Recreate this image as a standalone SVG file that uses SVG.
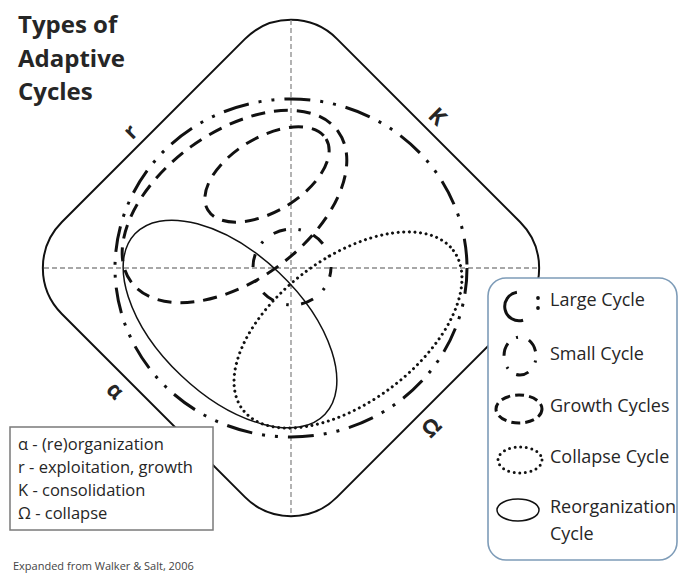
<svg xmlns="http://www.w3.org/2000/svg" width="680" height="575" viewBox="0 0 680 575">
<defs>
<style>
text{font-family:"Open Sans","Liberation Sans",sans-serif;fill:#262626}
.title{font-size:24px;font-weight:bold}
.lbl{font-size:22px;font-weight:bold;text-anchor:middle}
.leg{font-size:18px}
.key{font-size:16.5px}
.foot{font-size:11px;fill:#444}
.cyc{fill:none;stroke:#111}
.big{stroke-width:3;stroke-dasharray:26 10 3 10 3 10}
.grow{stroke-width:3;stroke-dasharray:14 9}
.small{stroke-width:3;stroke-dasharray:13 12.5 2.5 13.3;stroke-dashoffset:3.1}
.coll{stroke-width:3;stroke-dasharray:0 5.6;stroke-linecap:round}
.reorg{stroke-width:1.5}
.axis{fill:none;stroke:#8a8a8a;stroke-width:1.3;stroke-dasharray:5 3}
</style>
</defs>
<rect width="680" height="575" fill="#fff"/>

<g id="title">
<text class="title" x="18" y="33">Types of</text>
<text class="title" x="18" y="67">Adaptive</text>
<text class="title" x="18" y="100">Cycles</text>
</g>

<g id="frame">
<rect x="-194.5" y="-194.5" width="389" height="389" rx="65" fill="#fff" stroke="#111" stroke-width="2" transform="translate(291,268) rotate(45)"/>
</g>

<g id="axes">
<line class="axis" x1="44" y1="268" x2="538" y2="268"/>
<line class="axis" x1="291" y1="20" x2="291" y2="516"/>
</g>

<g id="large-cycle"><ellipse class="cyc big" cx="291" cy="268" rx="176" ry="169"/></g>
<g id="growth-cycle-upper"><ellipse class="cyc grow" cx="0" cy="0" rx="69" ry="37" transform="translate(267,174.5) rotate(-31)"/></g>
<g id="growth-cycle-outer"><ellipse class="cyc grow" cx="0" cy="0" rx="128" ry="74" transform="translate(234.5,206.5) rotate(-36)"/></g>
<g id="collapse-cycle"><ellipse class="cyc coll" cx="0" cy="0" rx="132" ry="72" transform="translate(348,330) rotate(-37)"/></g>
<g id="reorganization-cycle"><ellipse class="cyc reorg" cx="0" cy="0" rx="131" ry="71" transform="translate(230,324) rotate(43.5)"/></g>
<g id="small-cycle"><ellipse class="cyc small" cx="292" cy="267" rx="39" ry="38"/></g>

<g id="phase-labels">
<text class="lbl" transform="translate(132,133) rotate(-45)" y="5.5">r</text>
<text class="lbl" transform="translate(437,117) rotate(45)" y="7">K</text>
<text class="lbl" transform="translate(114,392) rotate(45)" y="5.5">α</text>
<text class="lbl" transform="translate(432,428) rotate(-45)" y="7">Ω</text>
</g>

<g id="key-box">
<rect x="10" y="427" width="203" height="103" fill="#fff" stroke="#7a7a7a" stroke-width="1.5"/>
<text class="key" x="18" y="450">α - (re)organization</text>
<text class="key" x="18" y="473">r - exploitation, growth</text>
<text class="key" x="18" y="496">K - consolidation</text>
<text class="key" x="18" y="519">Ω - collapse</text>
</g>

<g id="legend">
<rect x="488" y="278" width="189" height="282" rx="18" fill="#fff" stroke="#7e9cb8" stroke-width="1.6"/>
<g id="legend-large">
<path class="cyc" stroke-width="3" d="M523.1,320.2 A14.3,14.3 0 1 1 516.9,292.35"/>
<circle cx="538" cy="298" r="1.9" fill="#111"/>
<circle cx="538" cy="308" r="1.9" fill="#111"/>
<text class="leg" x="550" y="306">Large Cycle</text>
</g>
<g id="legend-small">
<ellipse class="cyc" stroke-width="3" cx="520" cy="356" rx="16" ry="19" stroke-dasharray="13 10 2 11.7" stroke-dashoffset="18.4"/>
<text class="leg" x="550" y="360">Small Cycle</text>
</g>
<g id="legend-growth">
<ellipse class="cyc" stroke-width="3" cx="519" cy="409" rx="23" ry="14" stroke-dasharray="9 5"/>
<text class="leg" x="550" y="412">Growth Cycles</text>
</g>
<g id="legend-collapse">
<ellipse class="cyc coll" cx="520" cy="460" rx="22" ry="13"/>
<text class="leg" x="550" y="463">Collapse Cycle</text>
</g>
<g id="legend-reorg">
<ellipse class="cyc reorg" cx="518" cy="510" rx="21" ry="11"/>
<text class="leg" x="550" y="513">Reorganization</text>
<text class="leg" x="550" y="540">Cycle</text>
</g>
</g>

<text class="foot" x="13" y="570">Expanded from Walker &amp; Salt, 2006</text>
</svg>
